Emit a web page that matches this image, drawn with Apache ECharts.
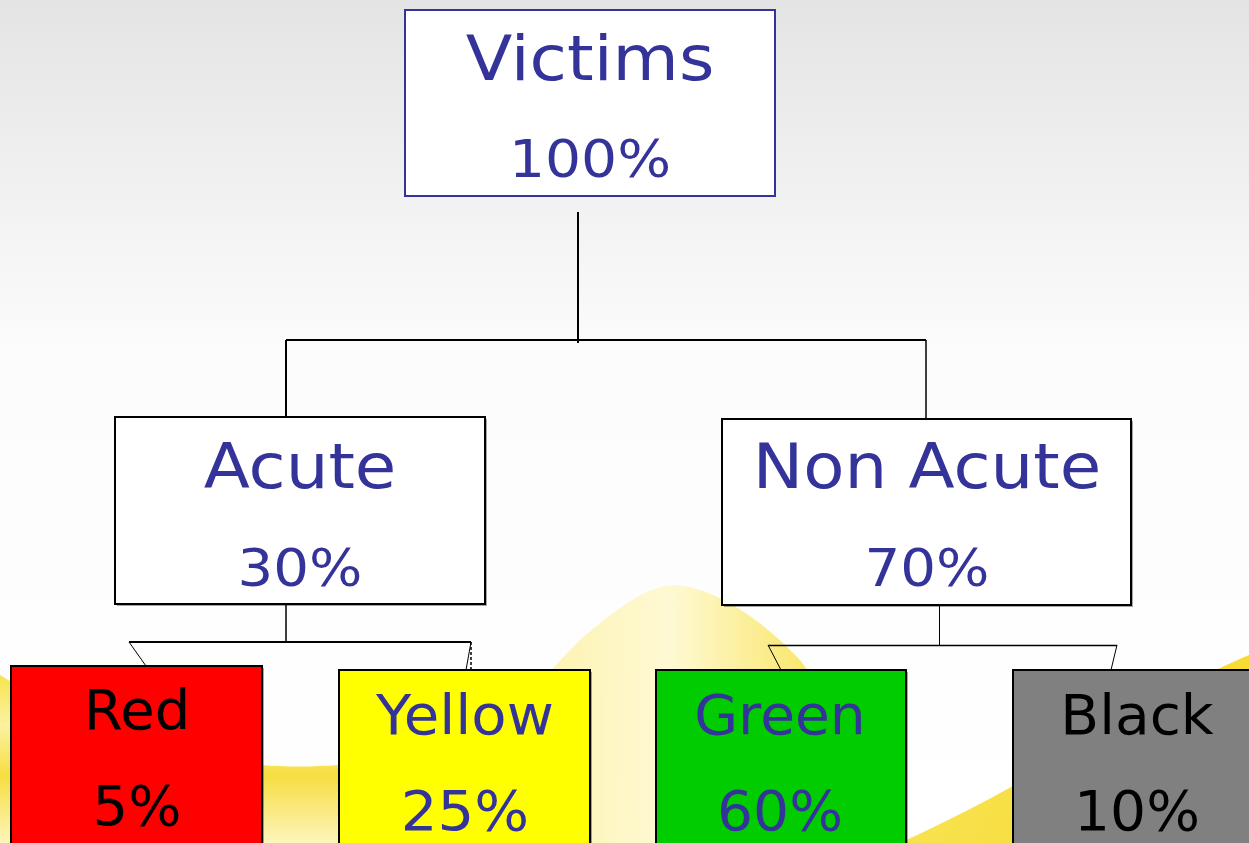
<!DOCTYPE html>
<html>
<head>
<meta charset="utf-8">
<script src="https://cdn.jsdelivr.net/npm/echarts@6/dist/echarts.min.js"></script>
<style>
html,body{margin:0;padding:0;background:#fff;}
#main{width:1249px;height:843px;}
</style>
</head>
<body>
<div id="main"></div>
<script>
// ---- data ----
var nodeNames    = ['Victims', 'Acute', 'Non Acute', 'Red', 'Yellow', 'Green', 'Black'];
var nodePercents = [100, 30, 70, 5, 25, 60, 10];
var nodeParents  = [-1, 0, 0, 1, 1, 2, 2];
var nodeFills    = ['#ffffff', '#ffffff', '#ffffff', '#ff0000', '#ffff00', '#00cc00', '#808080'];
var nodeTextCols = ['#333399', '#333399', '#333399', '#000000', '#333399', '#333399', '#000000'];

// ---- layout (pixel units on a hidden 1249 x 843 axis pair) ----
var boxLayout = [
  [405, 10, 775, 196],
  [115, 417, 485, 604],
  [722, 419, 1131, 605],
  [11, 666, 262, 850],
  [339, 670, 590, 850],
  [656, 670, 906, 850],
  [1013, 670, 1262, 850]
];
var textLayout = [ // [centerX, nameBaseline, pctBaseline, nameSize, pctSize, scaleX]
  [590, 79, 176, 63, 51, 1.08],
  [300, 487, 585, 63, 51, 1.07],
  [927, 487, 585, 63, 51, 1.07],
  [137, 728, 824, 55, 55, 1.02],
  [465, 733, 829, 55, 55, 1.05],
  [780, 733, 829, 55, 55, 1.03],
  [1137, 733, 829, 55, 55, 1.03]
];
var connectorLayout = [ // [x1,y1,x2,y2,width,dashed]
  [578, 212, 578, 343, 2, 0],
  [286, 340, 926, 340, 2, 0],
  [286, 340, 286, 417, 2, 0],
  [926, 340, 926, 419, 1.5, 0],
  [286, 604, 286, 642, 1.5, 0],
  [129, 642, 471, 642, 2, 0],
  [129, 642, 146, 666, 1, 0],
  [471, 642, 466, 670, 1, 0],
  [471, 642, 471, 670, 1.5, 1],
  [939.5, 602, 939.5, 645, 1, 0],
  [768, 645.5, 1117, 645.5, 1.5, 0],
  [768, 645, 781, 670, 1, 0],
  [1117, 645, 1111, 670, 1, 0]
];
// decorative background artwork (yellow waves)
var wavePaths = [
  'M 440 843 C 480 760 520 700 580 640 C 620 605 650 585 675 585 C 715 588 760 618 800 660 C 830 700 860 760 900 843 Z',
  'M 0 675 C 60 712 140 752 260 765 C 330 770 380 762 470 745 L 470 843 L 0 843 Z',
  'M 900 843 C 960 815 1020 785 1080 745 C 1150 700 1210 672 1249 655 L 1249 843 Z'
];
var waveFills = [
  {type: 'linear', x: 0, y: 0, x2: 1, y2: 0, colorStops: [
    {offset: 0, color: '#f6dc2a'}, {offset: 0.2, color: '#fcf0a0'}, {offset: 0.5, color: '#fff8cc'}, {offset: 0.78, color: '#f9e45a'}, {offset: 1, color: '#f4d820'}]},
  {type: 'linear', x: 0, y: 0, x2: 0, y2: 1, colorStops: [
    {offset: 0, color: '#f7de30'}, {offset: 0.3, color: '#fbef90'}, {offset: 0.6, color: '#f5d820'}, {offset: 1, color: '#fdf3b0'}]},
  {type: 'linear', x: 0, y: 0, x2: 1, y2: 1, colorStops: [
    {offset: 0, color: '#f7e040'}, {offset: 1, color: '#f4d300'}]}
];

var chart = echarts.init(document.getElementById('main'));

var nodeData = nodeNames.map(function (n, i) { return [i, nodePercents[i]]; });
var edgeData = connectorLayout.map(function (c, i) { return [i]; });
var waveData = wavePaths.map(function (p, i) { return [i]; });

var option = {
  animation: false,
  backgroundColor: {
    type: 'linear', x: 0, y: 0, x2: 0, y2: 1,
    colorStops: [
      {offset: 0, color: '#e4e4e4'},
      {offset: 0.42, color: '#fcfcfc'},
      {offset: 1, color: '#ffffff'}
    ]
  },
  grid: {left: 0, right: 0, top: 0, bottom: 0},
  xAxis: {type: 'value', min: 0, max: 1249, show: false},
  yAxis: {type: 'value', min: 0, max: 843, inverse: true, show: false},
  series: [
    {
      type: 'custom',
      name: 'waves',
      coordinateSystem: 'cartesian2d',
      clip: false,
      silent: true,
      z: 0,
      data: waveData,
      renderItem: function (params, api) {
        var i = api.value(0);
        var o = api.coord([0, 0]);
        return {
          type: 'path',
          x: o[0], y: o[1],
          shape: {pathData: wavePaths[i]},
          style: {fill: waveFills[i], opacity: 0.85}
        };
      }
    },
    {
      type: 'custom',
      name: 'links',
      coordinateSystem: 'cartesian2d',
      clip: false,
      silent: true,
      z: 2,
      data: edgeData,
      renderItem: function (params, api) {
        var c = connectorLayout[api.value(0)];
        var p1 = api.coord([c[0], c[1]]);
        var p2 = api.coord([c[2], c[3]]);
        return {
          type: 'line',
          shape: {x1: p1[0], y1: p1[1], x2: p2[0], y2: p2[1]},
          style: {stroke: '#000', lineWidth: c[4], lineDash: c[5] ? [3, 2] : null}
        };
      }
    },
    {
      type: 'custom',
      name: 'nodes',
      coordinateSystem: 'cartesian2d',
      clip: false,
      silent: true,
      z: 3,
      data: nodeData,
      renderItem: function (params, api) {
        var i = api.value(0);
        var b = boxLayout[i];
        var t = textLayout[i];
        var tl = api.coord([b[0], b[1]]);
        var br = api.coord([b[2], b[3]]);
        var nameP = api.coord([t[0], t[1] + 0.25 * t[3]]);
        var pctP = api.coord([t[0], t[2] + 0.25 * t[4]]);
        var isRoot = nodeParents[i] < 0;
        var font = 'DejaVu Sans, Verdana, sans-serif';
        return {
          type: 'group',
          children: [
            {type: 'rect', shape: {x: tl[0] + 2, y: tl[1] + 2, width: br[0] - tl[0], height: br[1] - tl[1]},
             style: {fill: isRoot ? 'rgba(0,0,0,0)' : 'rgba(0,0,0,0.35)'}},
            {type: 'rect', shape: {x: tl[0], y: tl[1], width: br[0] - tl[0], height: br[1] - tl[1]},
             style: {fill: nodeFills[i], stroke: isRoot ? '#333399' : '#000', lineWidth: 2}},
            {type: 'text', x: nameP[0], y: nameP[1], scaleX: t[5], scaleY: 1,
             style: {text: nodeNames[i], fill: nodeTextCols[i], font: t[3] + 'px ' + font,
                     align: 'center', verticalAlign: 'bottom'}},
            {type: 'text', x: pctP[0], y: pctP[1], scaleX: t[5] * (t[4] === t[3] ? 1 : 1.03), scaleY: 1,
             style: {text: api.value(1) + '%', fill: nodeTextCols[i], font: t[4] + 'px ' + font,
                     align: 'center', verticalAlign: 'bottom'}}
          ]
        };
      }
    }
  ]
};
chart.setOption(option);
</script>
</body>
</html>
